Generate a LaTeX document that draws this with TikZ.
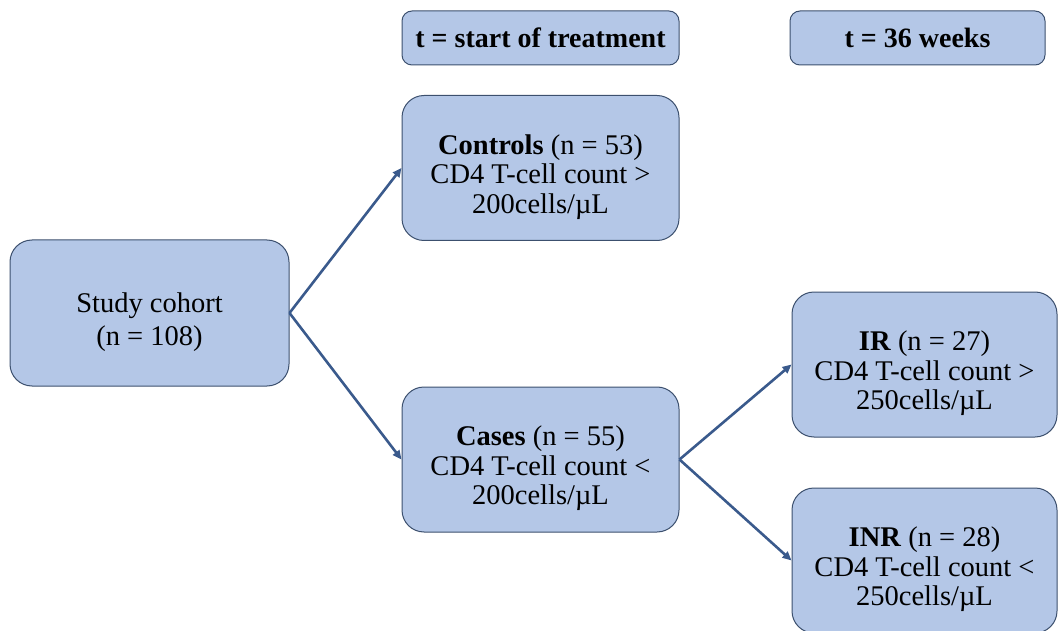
\documentclass[tikz,border=0pt]{standalone}
\usepackage{fontspec}
\setmainfont{Liberation Serif}
\usetikzlibrary{arrows.meta}
\definecolor{boxfill}{RGB}{180,199,231}
\definecolor{boxline}{RGB}{60,80,110}
\definecolor{arrowc}{RGB}{58,90,140}
\newcommand{\lowerstrut}{\rule{0pt}{38pt}}
\begin{document}
\begin{tikzpicture}[x=1pt,y=-1pt,
  stagebox/.style={draw=boxline, line width=1pt, fill=boxfill, rounded corners=22pt,
    align=center, font=\fontsize{28.5}{29.5}\selectfont, inner sep=0pt},
  headbox/.style={draw=boxline, line width=1pt, fill=boxfill, rounded corners=10pt,
    align=center, font=\fontsize{28}{30}\selectfont\bfseries, inner sep=0pt},
  flow/.style={draw=arrowc, line width=2.6pt, -{Triangle[length=9pt,width=8pt]}}]
\useasboundingbox (0,0) rectangle (1058,631);
\node[headbox, minimum width=277pt, minimum height=54pt] (h1) at (540.5,38) {t = start of treatment};
\node[headbox, minimum width=255pt, minimum height=54pt] (h2) at (917.5,38) {t = 36 weeks};
\node[stagebox, minimum width=279pt, minimum height=146pt] (cohort) at (149.5,313) {\lowerstrut Study cohort\\[4pt](n = 108)};
\node[stagebox, minimum width=277pt, minimum height=145pt] (controls) at (540.5,168) {\lowerstrut\textbf{Controls} (n = 53)\\CD4 T-cell count >\\200cells/µL};
\node[stagebox, minimum width=277pt, minimum height=145pt] (cases) at (540.5,459.5) {\lowerstrut\textbf{Cases} (n = 55)\\CD4 T-cell count <\\200cells/µL};
\node[stagebox, minimum width=265pt, minimum height=145pt] (ir) at (924.5,364.5) {\lowerstrut\textbf{IR} (n = 27)\\CD4 T-cell count >\\250cells/µL};
\node[stagebox, minimum width=265pt, minimum height=145pt] (inr) at (924.5,560.5) {\lowerstrut\textbf{INR} (n = 28)\\CD4 T-cell count <\\250cells/µL};
\draw[flow] (cohort.east) -- (controls.west);
\draw[flow] (cohort.east) -- (cases.west);
\draw[flow] (cases.east) -- (ir.west);
\draw[flow] (cases.east) -- (inr.west);
\end{tikzpicture}
\end{document}
